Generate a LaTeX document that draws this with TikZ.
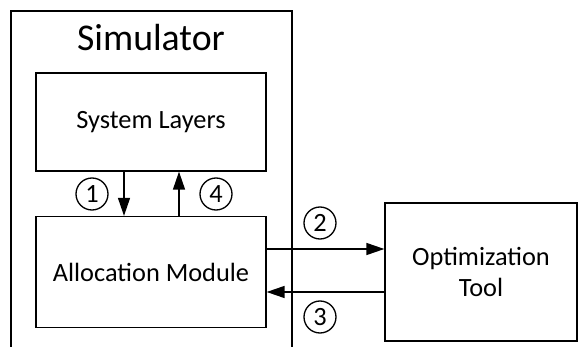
\documentclass[tikz,border=0pt]{standalone}
\usepackage{fontspec}
\setmainfont{Carlito}
\usepackage{tikz}
\usetikzlibrary{shapes,arrows.meta}

\tikzset{
  block/.style={draw,line width=0.75pt,align=center,font=\fontsize{15}{18}\selectfont},
  stepnum/.style={draw,circle,line width=0.75pt,inner sep=0pt,minimum size=0.64cm,font=\fontsize{15}{18}\selectfont}
}

\begin{document}
\begin{tikzpicture}[x=0.02cm,y=-0.02cm,line width=0.75pt,>={Triangle[length=0.36cm,width=0.24cm]}]
        \useasboundingbox (0,0) rectangle (578,347);

        % simulator frame, open at the bottom
        \draw (11,347) -- (11,11) -- (292,11) -- (292,347);
        \node (sim) at (151,38) {\fontsize{21.5}{26}\selectfont Simulator};

        \node[block,minimum width=4.6cm,minimum height=1.96cm] (layers) at (151,122) {System Layers};
        \node[block,minimum width=4.6cm,minimum height=2.22cm] (alloc) at (151,272) {Allocation Module};
        \node[block,minimum width=3.84cm,minimum height=2.76cm] (opt) at (481,272) {Optimization\\Tool};

        \node[stepnum] (s1) at (92,194) {1};
        \node[stepnum] (s4) at (216,194) {4};
        \node[stepnum] (s2) at (320,223) {2};
        \node[stepnum] (s3) at (320,317) {3};

        \draw[->] ([xshift=-0.54cm]layers.south) -- ([xshift=-0.54cm]alloc.north);
        \draw[->] ([xshift=0.56cm]alloc.north) -- ([xshift=0.56cm]layers.south);
        \draw[->] ([yshift=0.46cm]alloc.east) -- ([yshift=0.46cm]opt.west);
        \draw[->] ([yshift=-0.4cm]opt.west) -- ([yshift=-0.4cm]alloc.east);
\end{tikzpicture}
\end{document}
